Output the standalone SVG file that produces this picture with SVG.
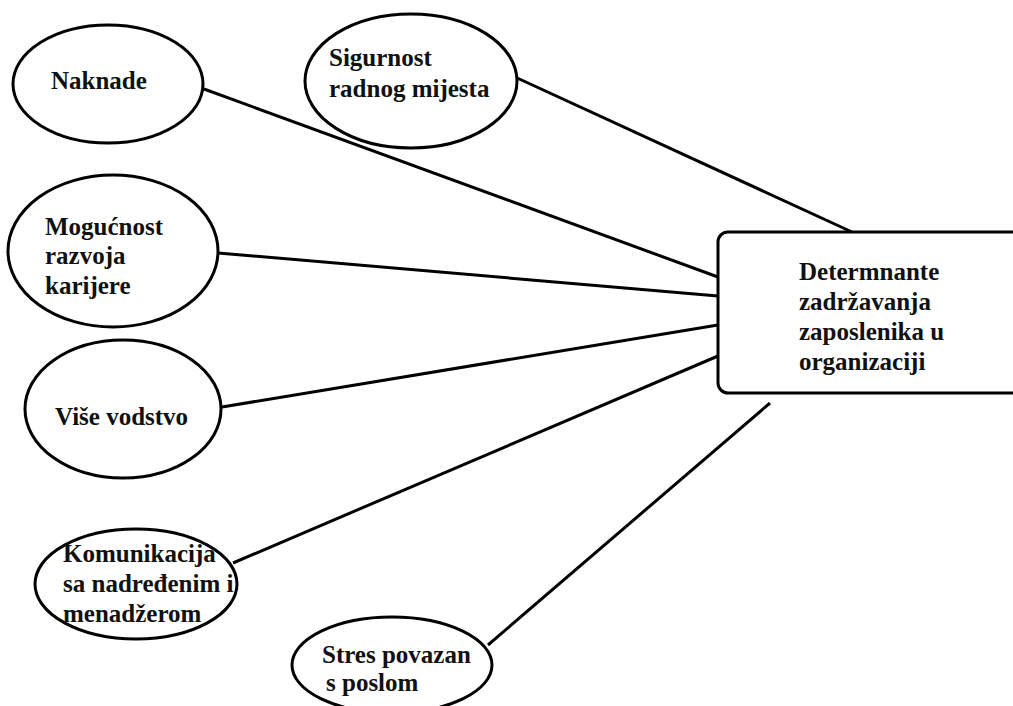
<svg xmlns="http://www.w3.org/2000/svg" width="1013" height="706" viewBox="0 0 1013 706">
  <style>
    .shape { fill: #ffffff; stroke: #000000; stroke-width: 3; }
    .link { stroke: #000000; stroke-width: 3; fill: none; }
    .label { font-family: "Liberation Serif", "Times New Roman", serif; font-weight: bold; font-size: 25px; fill: #111111; }
  </style>
  <rect width="1013" height="706" fill="#ffffff"/>

  <!-- connectors: each factor joined to the central box -->
  <g id="connectors">
    <line class="link" x1="204" y1="89" x2="718" y2="277"/>
    <line class="link" x1="515" y1="77" x2="852" y2="232"/>
    <line class="link" x1="218" y1="253" x2="718" y2="296"/>
    <line class="link" x1="222" y1="407" x2="718" y2="325"/>
    <line class="link" x1="233" y1="563" x2="718" y2="356"/>
    <line class="link" x1="488" y1="645" x2="770" y2="403"/>
  </g>

  <g id="node-naknade">
    <ellipse class="shape" cx="108" cy="84" rx="95" ry="59"/>
    <text class="label" x="51" y="89">Naknade</text>
  </g>

  <g id="node-sigurnost">
    <ellipse class="shape" cx="411" cy="81" rx="106" ry="67"/>
    <text class="label" x="329" y="66">Sigurnost</text>
    <text class="label" x="329" y="97">radnog mijesta</text>
  </g>

  <g id="node-mogucnost">
    <ellipse class="shape" cx="113" cy="251" rx="105" ry="76"/>
    <text class="label" x="45" y="235">Mogućnost</text>
    <text class="label" x="45" y="264">razvoja</text>
    <text class="label" x="45" y="294">karijere</text>
  </g>

  <g id="node-vodstvo">
    <ellipse class="shape" cx="123" cy="409" rx="98" ry="69"/>
    <text class="label" x="55" y="425">Više vodstvo</text>
  </g>

  <g id="node-komunikacija">
    <ellipse class="shape" cx="136" cy="584" rx="101" ry="55"/>
    <text class="label" x="63" y="562">Komunikacija</text>
    <text class="label" x="63" y="592">sa nadređenim i</text>
    <text class="label" x="63" y="622">menadžerom</text>
  </g>

  <g id="node-stres">
    <ellipse class="shape" cx="392" cy="665" rx="100" ry="48"/>
    <text class="label" x="322" y="663">Stres povazan</text>
    <text class="label" x="326" y="691">s poslom</text>
  </g>

  <g id="node-determinante">
    <rect class="shape" x="718" y="232" width="320" height="161" rx="10" ry="10"/>
    <text class="label" x="799" y="280">Determnante</text>
    <text class="label" x="799" y="310">zadržavanja</text>
    <text class="label" x="799" y="340">zaposlenika u</text>
    <text class="label" x="799" y="370">organizaciji</text>
  </g>
</svg>
